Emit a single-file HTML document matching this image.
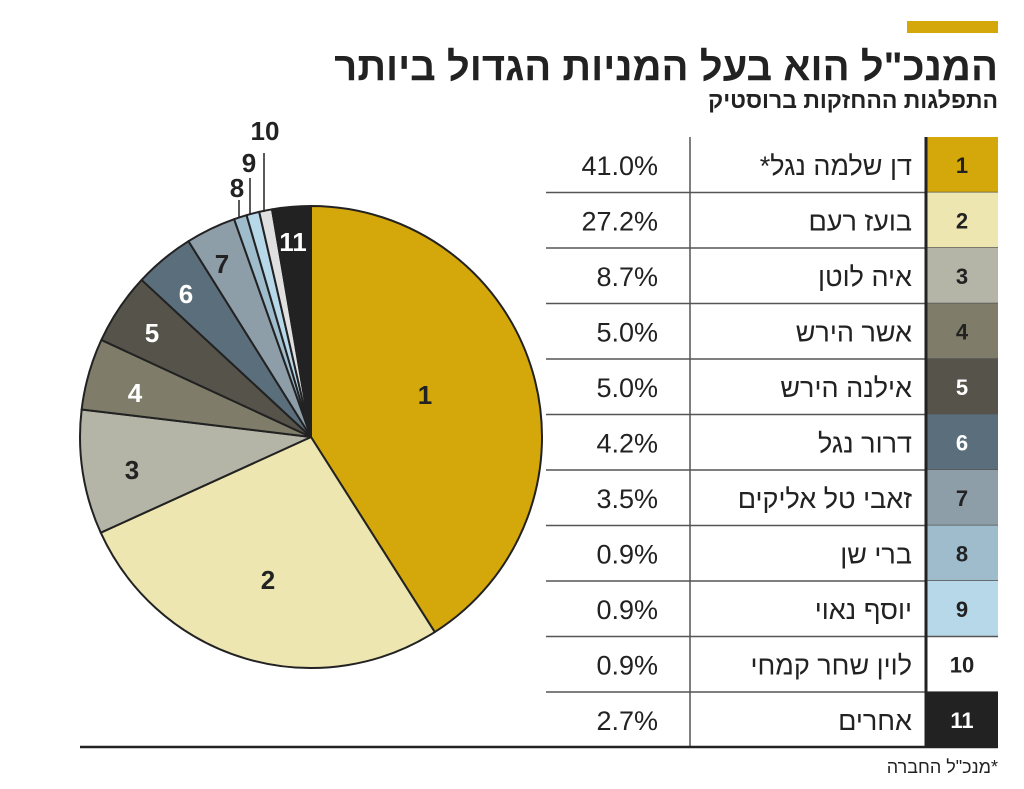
<!DOCTYPE html>
<html><head><meta charset="utf-8"><style>
body{margin:0;background:#fff;width:1024px;height:784px;overflow:hidden}
svg text{font-family:"Liberation Sans","Noto Sans CJK SC",sans-serif}
</style></head><body>
<svg id="s" width="1024" height="784" xmlns="http://www.w3.org/2000/svg">
<rect x="907" y="21" width="91" height="12" fill="#d4a80a"/>
<text x="998" y="80" text-anchor="start" direction="rtl" font-size="40" font-weight="bold" fill="#222">המנכ"ל הוא בעל המניות הגדול ביותר</text>
<text x="998" y="108" text-anchor="start" direction="rtl" font-size="23" font-weight="bold" fill="#222">התפלגות ההחזקות ברוסטיק</text>
<g id="pie"></g>
<g id="tbl"></g>
<line x1="80" y1="747" x2="998" y2="747" stroke="#222" stroke-width="2.5"/>
<text x="998" y="773" text-anchor="start" direction="rtl" font-size="18" fill="#222">*מנכ"ל החברה</text>
</svg>
<script>
var NS="http://www.w3.org/2000/svg";
function el(t,a,p,txt){var e=document.createElementNS(NS,t);for(var k in a)e.setAttribute(k,a[k]);if(txt!=null)e.textContent=txt;(p||document.getElementById('s')).appendChild(e);return e;}
var vals=[41,27.2,8.7,5,5,4.2,3.5,0.9,0.9,0.9,2.7];
var cols=["#d4a80a","#ede6b0","#b4b5a6","#7f7d69","#55534a","#5b6e7c","#8d9ea9","#9fbccc","#b7d8e8","#e0e0e0","#222"];
var cx=311,cy=437,r=231,a=0,pie=document.getElementById('pie');
vals.forEach(function(v,i){var a2=a+v/100*2*Math.PI;
var x1=cx+r*Math.sin(a),y1=cy-r*Math.cos(a),x2=cx+r*Math.sin(a2),y2=cy-r*Math.cos(a2);
el('path',{d:"M"+cx+","+cy+"L"+x1+","+y1+"A"+r+","+r+" 0 "+(a2-a>Math.PI?1:0)+" 1 "+x2+","+y2+"Z",fill:cols[i],stroke:"#222","stroke-width":2,"stroke-linejoin":"round"},pie);a=a2;});
var labs=[[425,395,"1","#222"],[268,580,"2","#222"],[132,470,"3","#222"],[135,393,"4","#fff"],[152,333,"5","#fff"],[186,294,"6","#fff"],[222,264,"7","#222"],[293,242,"11","#fff"],[237,188,"8","#222"],[249,163,"9","#222"],[265,131,"10","#222"]];
labs.forEach(function(l){el('text',{x:l[0],y:l[1]+9,"text-anchor":"middle","font-size":26,"font-weight":"bold",fill:l[3]},pie,l[2]);});
el('line',{x1:239,y1:200,x2:239,y2:218,stroke:"#222","stroke-width":1.5},pie);
el('line',{x1:250,y1:178,x2:250,y2:215,stroke:"#222","stroke-width":1.5},pie);
el('line',{x1:264,y1:153,x2:264,y2:212,stroke:"#222","stroke-width":1.5},pie);
var names=["דן שלמה נגל*","בועז רעם","איה לוטן","אשר הירש","אילנה הירש","דרור נגל","זאבי טל אליקים","ברי שן","יוסף נאוי","לוין שחר קמחי","אחרים"];
var pcts=["41.0%","27.2%","8.7%","5.0%","5.0%","4.2%","3.5%","0.9%","0.9%","0.9%","2.7%"];
var tb=document.getElementById('tbl'),top0=137,h=55.5;
for(var i=0;i<11;i++){var y=top0+i*h;
 if(i!=9)el('rect',{x:926,y:y,width:72,height:h,fill:cols[i]},tb);
 el('text',{x:962,y:y+h/2+8,"text-anchor":"middle","font-size":22,"font-weight":"bold",fill:(i==10||i==4||i==5)?"#fff":"#222"},tb,String(i+1));
 el('text',{x:912,y:y+h/2+10,"text-anchor":"start",direction:"rtl","font-size":27,"font-weight":"500",fill:"#222"},tb,names[i]);
 el('text',{x:658,y:y+h/2+10,"text-anchor":"end","font-size":27,fill:"#222"},tb,pcts[i]);
 if(i<10)el('line',{x1:546,y1:y+h,x2:998,y2:y+h,stroke:"#555","stroke-width":1.5},tb);
}
el('line',{x1:690,y1:137,x2:690,y2:747,stroke:"#555","stroke-width":1.5},tb);
el('line',{x1:926,y1:137,x2:926,y2:747,stroke:"#222","stroke-width":3},tb);
</script>
</body></html>
